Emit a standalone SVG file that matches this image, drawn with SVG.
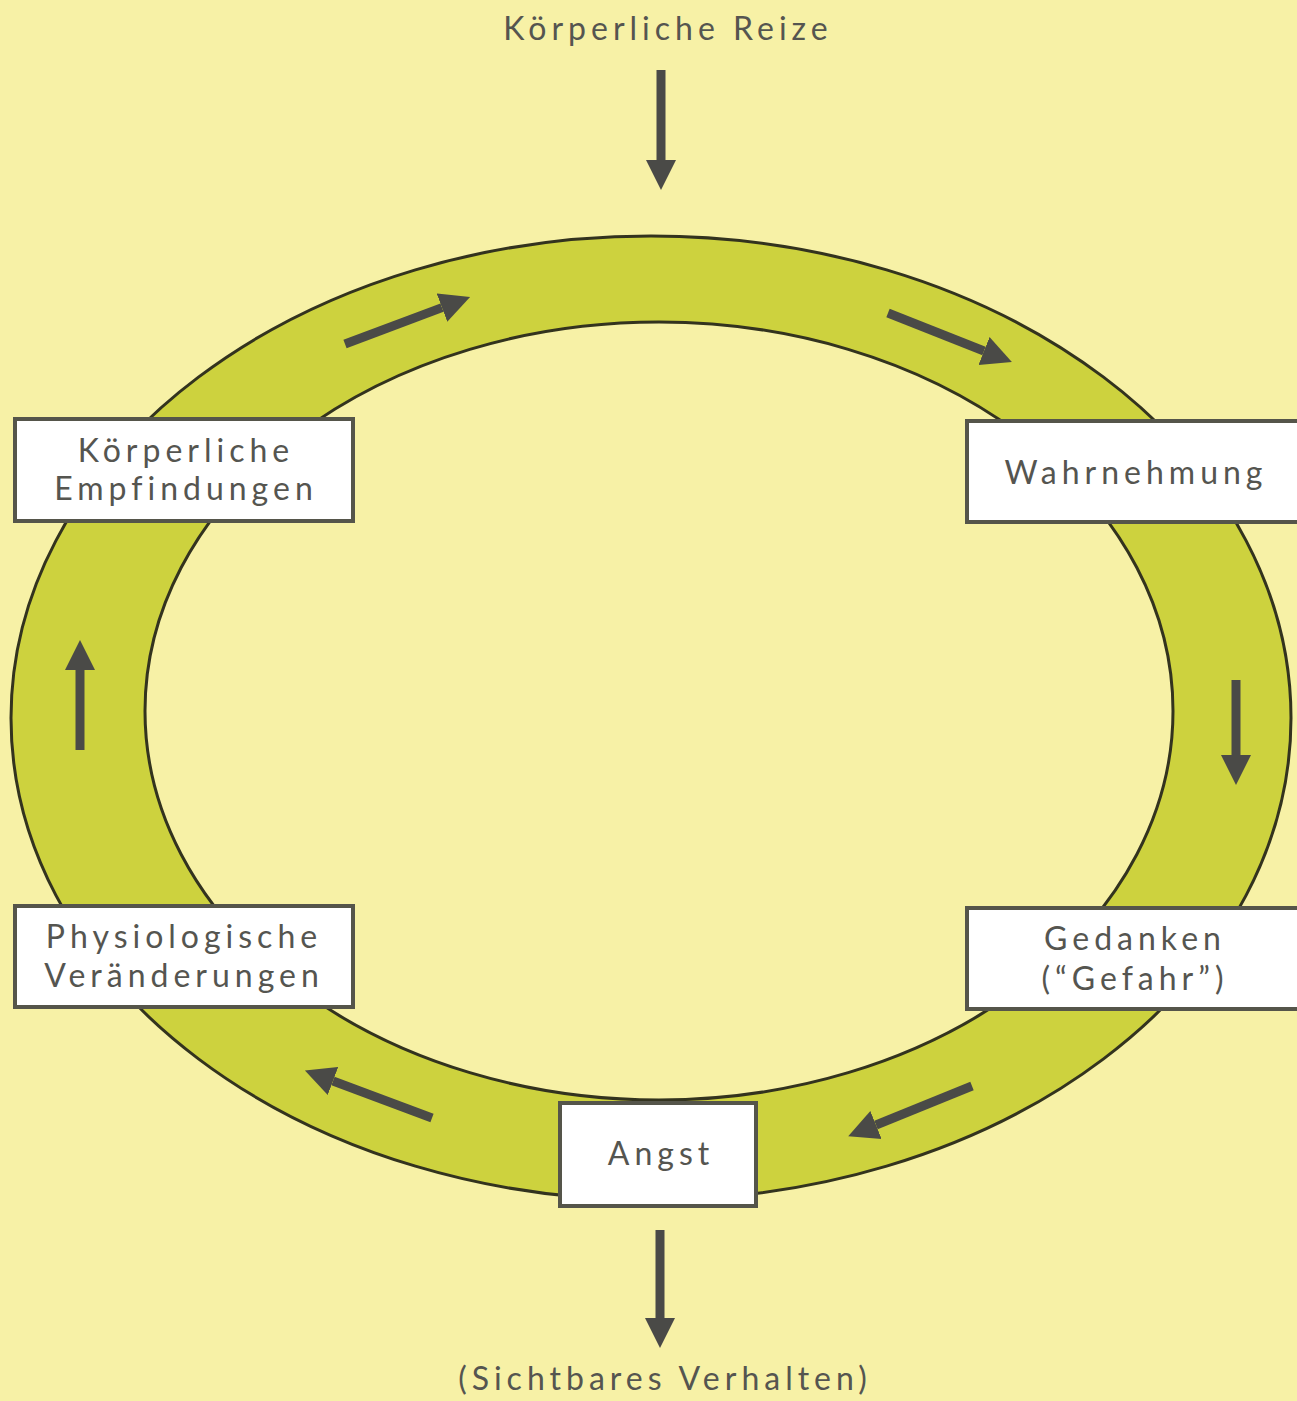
<svg xmlns="http://www.w3.org/2000/svg" width="1297" height="1401" viewBox="0 0 1297 1401">
<style>
.lbl{font-family:"Lato","Liberation Sans",sans-serif;font-size:32px;fill:#555550;letter-spacing:5px;text-anchor:middle}
.box{fill:#ffffff;stroke:#55554a;stroke-width:4}
.arr{stroke:#4a4a47;stroke-width:9;fill:none}
</style>
<defs>
<marker id="ah" markerUnits="userSpaceOnUse" markerWidth="30" markerHeight="32" viewBox="0 0 30 32" refX="0" refY="16" orient="auto">
<path d="M0,1 L30,16 L0,31 Z" fill="#4a4a47"/>
</marker>
</defs>
<rect width="1297" height="1401" fill="#f7f1a6"/>
<g id="ring">
<path d="M11,718 A640,482 0 1,0 1291,718 A640,482 0 1,0 11,718 Z M145,711 A514,389 0 1,1 1173,711 A514,389 0 1,1 145,711 Z" fill-rule="evenodd" fill="#cdd23e" stroke="#33331e" stroke-width="3"/>
</g>
<g id="connectors">
<line class="arr" x1="661" y1="70" x2="661" y2="160" marker-end="url(#ah)"/>
<line class="arr" x1="660" y1="1230" x2="660" y2="1318" marker-end="url(#ah)"/>
<line class="arr" x1="345" y1="344" x2="442" y2="307.6" marker-end="url(#ah)"/>
<line class="arr" x1="888" y1="313" x2="984" y2="351" marker-end="url(#ah)"/>
<line class="arr" x1="1236" y1="680" x2="1236" y2="755" marker-end="url(#ah)"/>
<line class="arr" x1="972" y1="1086" x2="876" y2="1125" marker-end="url(#ah)"/>
<line class="arr" x1="432" y1="1118" x2="333" y2="1081" marker-end="url(#ah)"/>
<line class="arr" x1="80" y1="750" x2="80" y2="670" marker-end="url(#ah)"/>
</g>
<g id="n-reize"><text class="lbl" x="668" y="40">Körperliche Reize</text></g>
<g id="n-empfindungen">
<rect class="box" x="15" y="419" width="338" height="102"/>
<text class="lbl" x="186" y="462">Körperliche</text>
<text class="lbl" x="186" y="500">Empfindungen</text>
</g>
<g id="n-wahrnehmung">
<rect class="box" x="967" y="421" width="340" height="101"/>
<text class="lbl" x="1136" y="484">Wahrnehmung</text>
</g>
<g id="n-physiologisch">
<rect class="box" x="15" y="906" width="338" height="101"/>
<text class="lbl" x="184" y="948">Physiologische</text>
<text class="lbl" x="184" y="987">Veränderungen</text>
</g>
<g id="n-gedanken">
<rect class="box" x="967" y="908" width="340" height="101"/>
<text class="lbl" x="1135" y="950">Gedanken</text>
<text class="lbl" x="1135" y="990">(“Gefahr”)</text>
</g>
<g id="n-angst">
<rect class="box" x="560" y="1103" width="196" height="103"/>
<text class="lbl" x="661" y="1165">Angst</text>
</g>
<g id="n-verhalten"><text class="lbl" x="665" y="1390">(Sichtbares Verhalten)</text></g>
</svg>
